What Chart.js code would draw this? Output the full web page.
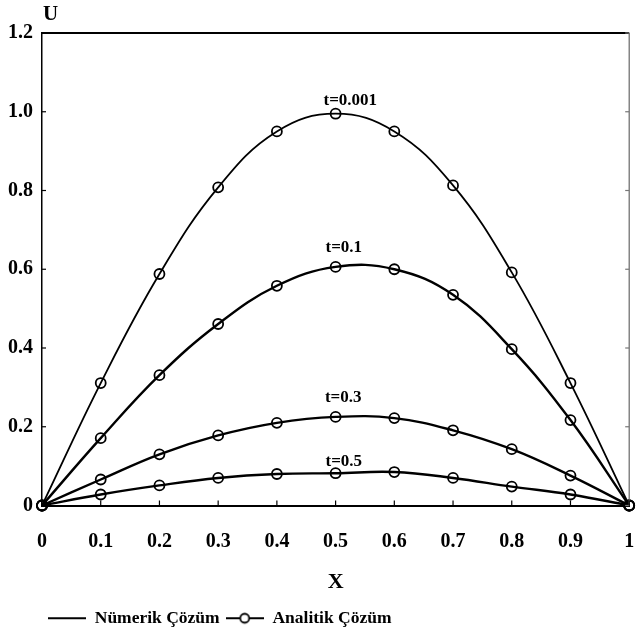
<!DOCTYPE html>
<html>
<head>
<meta charset="utf-8">
<script src="https://cdn.jsdelivr.net/npm/chart.js@4/dist/chart.umd.min.js"></script>
<style>
  html, body { margin: 0; padding: 0; background: #fff; }
  #wrap { width: 636px; height: 638px; }
</style>
</head>
<body>
<div id="wrap"><canvas id="uChart" width="636" height="638"></canvas></div>
<script>
// x positions and U values
const xs = [0, 0.1, 0.2, 0.3, 0.4, 0.5, 0.6, 0.7, 0.8, 0.9, 1];
const u001 = [0, 0.311, 0.588, 0.808, 0.950, 0.995, 0.950, 0.813, 0.592, 0.311, 0];
const u01  = [0, 0.171, 0.331, 0.461, 0.558, 0.606, 0.600, 0.535, 0.397, 0.217, 0];
const u03  = [0, 0.066, 0.130, 0.178, 0.210, 0.225, 0.222, 0.191, 0.143, 0.076, 0];
const u05  = [0, 0.028, 0.051, 0.070, 0.080, 0.082, 0.085, 0.070, 0.048, 0.028, 0];

const curveLabels = ['t=0.001', 't=0.1', 't=0.3', 't=0.5'];
const labelX = [0.525, 0.514, 0.513, 0.514];
const labelY = [1.029, 0.655, 0.273, 0.112];

const seriesNames = ['Nümerik Çözüm', 'Analitik Çözüm'];
const yTicks = [0, 0.2, 0.4, 0.6, 0.8, 1.0, 1.2];

const FONT = "'Liberation Serif', 'DejaVu Serif', serif";

function pts(vals) {
  return xs.map((x, i) => ({ x: x, y: vals[i] }));
}

// legend samples: plain line, and line with a circle
function legendSample(withCircle) {
  const c = document.createElement('canvas');
  c.width = 38; c.height = 14;
  const g = c.getContext('2d');
  g.strokeStyle = '#000';
  g.lineWidth = 1.8;
  g.beginPath(); g.moveTo(0, 7); g.lineTo(38, 7); g.stroke();
  if (withCircle) {
    g.fillStyle = '#fff';
    g.beginPath(); g.arc(19, 7, 4.5, 0, Math.PI * 2); g.fill(); g.stroke();
  }
  return c;
}
const lineSample = legendSample(false);
const circleSample = legendSample(true);

const allSeries = [u001, u01, u03, u05];
const widths = [1.8, 2.4, 2.4, 2.4];

const datasets = [];
allSeries.forEach((vals, i) => {
  datasets.push({
    label: seriesNames[0],
    data: pts(vals),
    borderColor: '#000',
    borderWidth: widths[i],
    pointRadius: 0,
    tension: 0.4,
    fill: false,
    clip: false,
    legendShow: i === 0,
    legendIcon: lineSample
  });
});
allSeries.forEach((vals, i) => {
  datasets.push({
    label: seriesNames[1],
    data: pts(vals),
    showLine: false,
    borderColor: '#000',
    backgroundColor: 'rgba(0,0,0,0)',
    pointRadius: 5,
    pointBorderWidth: 1.8,
    pointStyle: 'circle',
    clip: false,
    legendShow: i === 0,
    legendIcon: circleSample
  });
});

const framePlugin = {
  id: 'frame',
  afterDatasetsDraw(chart) {
    const { ctx, chartArea: a, scales } = chart;
    ctx.save();
    // top and right border
    ctx.strokeStyle = '#000';
    ctx.lineWidth = 2;
    ctx.beginPath(); ctx.moveTo(a.left, a.top); ctx.lineTo(a.right, a.top); ctx.stroke();
    ctx.strokeStyle = '#666';
    ctx.lineWidth = 1.2;
    ctx.beginPath(); ctx.moveTo(a.right, a.top); ctx.lineTo(a.right, a.bottom); ctx.stroke();
    // inward tick marks
    ctx.lineWidth = 1.2;
    scales.y.ticks.forEach(t => {
      const y = scales.y.getPixelForValue(t.value);
      ctx.strokeStyle = '#000';
      ctx.beginPath(); ctx.moveTo(a.left, y); ctx.lineTo(a.left + 4, y); ctx.stroke();
      ctx.strokeStyle = '#777';
      ctx.beginPath(); ctx.moveTo(a.right, y); ctx.lineTo(a.right - 4, y); ctx.stroke();
    });
    ctx.strokeStyle = '#000';
    scales.x.ticks.forEach(t => {
      const x = scales.x.getPixelForValue(t.value);
      ctx.beginPath(); ctx.moveTo(x, a.bottom); ctx.lineTo(x, a.bottom - 5); ctx.stroke();
    });
    // curve labels
    ctx.fillStyle = '#000';
    ctx.font = 'bold 17px ' + FONT;
    ctx.textAlign = 'center';
    ctx.textBaseline = 'middle';
    curveLabels.forEach((txt, i) => {
      ctx.fillText(txt, scales.x.getPixelForValue(labelX[i]), scales.y.getPixelForValue(labelY[i]));
    });
    // axis name U
    ctx.font = 'bold 21px ' + FONT;
    ctx.textAlign = 'left';
    ctx.fillText('U', a.left + 1, 15);
    ctx.restore();
  }
};

const ctx = document.getElementById('uChart').getContext('2d');
const uChart = new Chart(ctx, {
  type: 'line',
  data: { datasets: datasets },
  plugins: [framePlugin],
  options: {
    responsive: false,
    animation: false,
    layout: { padding: { top: 33, right: 6, bottom: 1, left: 0 } },
    scales: {
      x: {
        type: 'linear',
        min: 0,
        max: 1,
        afterFit(scale) {
          scale.height = 98;
          scale.paddingLeft = 0;
          scale.paddingRight = 0;
        },
        grid: { display: false, drawTicks: false },
        border: { color: '#000', width: 2 },
        ticks: {
          stepSize: 0.1,
          padding: 24,
          color: '#000',
          font: { family: FONT, size: 20, weight: 'bold' },
          callback: v => (v === 0 || v === 1) ? String(v) : v.toFixed(1)
        },
        title: {
          display: true,
          text: 'X',
          color: '#000',
          font: { family: FONT, size: 22, weight: 'bold' },
          padding: { top: 0, bottom: 8 }
        }
      },
      y: {
        type: 'linear',
        min: 0,
        max: 1.2,
        afterFit(scale) {
          scale.width = 42;
          scale.paddingTop = 0;
          scale.paddingBottom = 0;
        },
        afterBuildTicks(scale) { scale.ticks = yTicks.map(v => ({ value: v })); },
        grid: { display: false, drawTicks: false },
        border: { color: '#000', width: 1.5 },
        ticks: {
          padding: 9,
          color: '#000',
          font: { family: FONT, size: 20, weight: 'bold' },
          callback: v => v === 0 ? '0' : v.toFixed(1)
        }
      }
    },
    plugins: {
      tooltip: { enabled: false },
      legend: {
        position: 'bottom',
        align: 'start',
        fullSize: false,
        labels: {
          usePointStyle: true,
          pointStyleWidth: 38,
          boxHeight: 14,
          padding: 6,
          color: '#000',
          font: { family: FONT, size: 17.5, weight: 'bold' },
          filter: (item, data) => data.datasets[item.datasetIndex].legendShow,
          generateLabels(chart) {
            const items = Chart.defaults.plugins.legend.labels.generateLabels(chart);
            items.forEach(it => { it.pointStyle = chart.data.datasets[it.datasetIndex].legendIcon; });
            return items;
          }
        }
      }
    }
  }
});
</script>
</body>
</html>
